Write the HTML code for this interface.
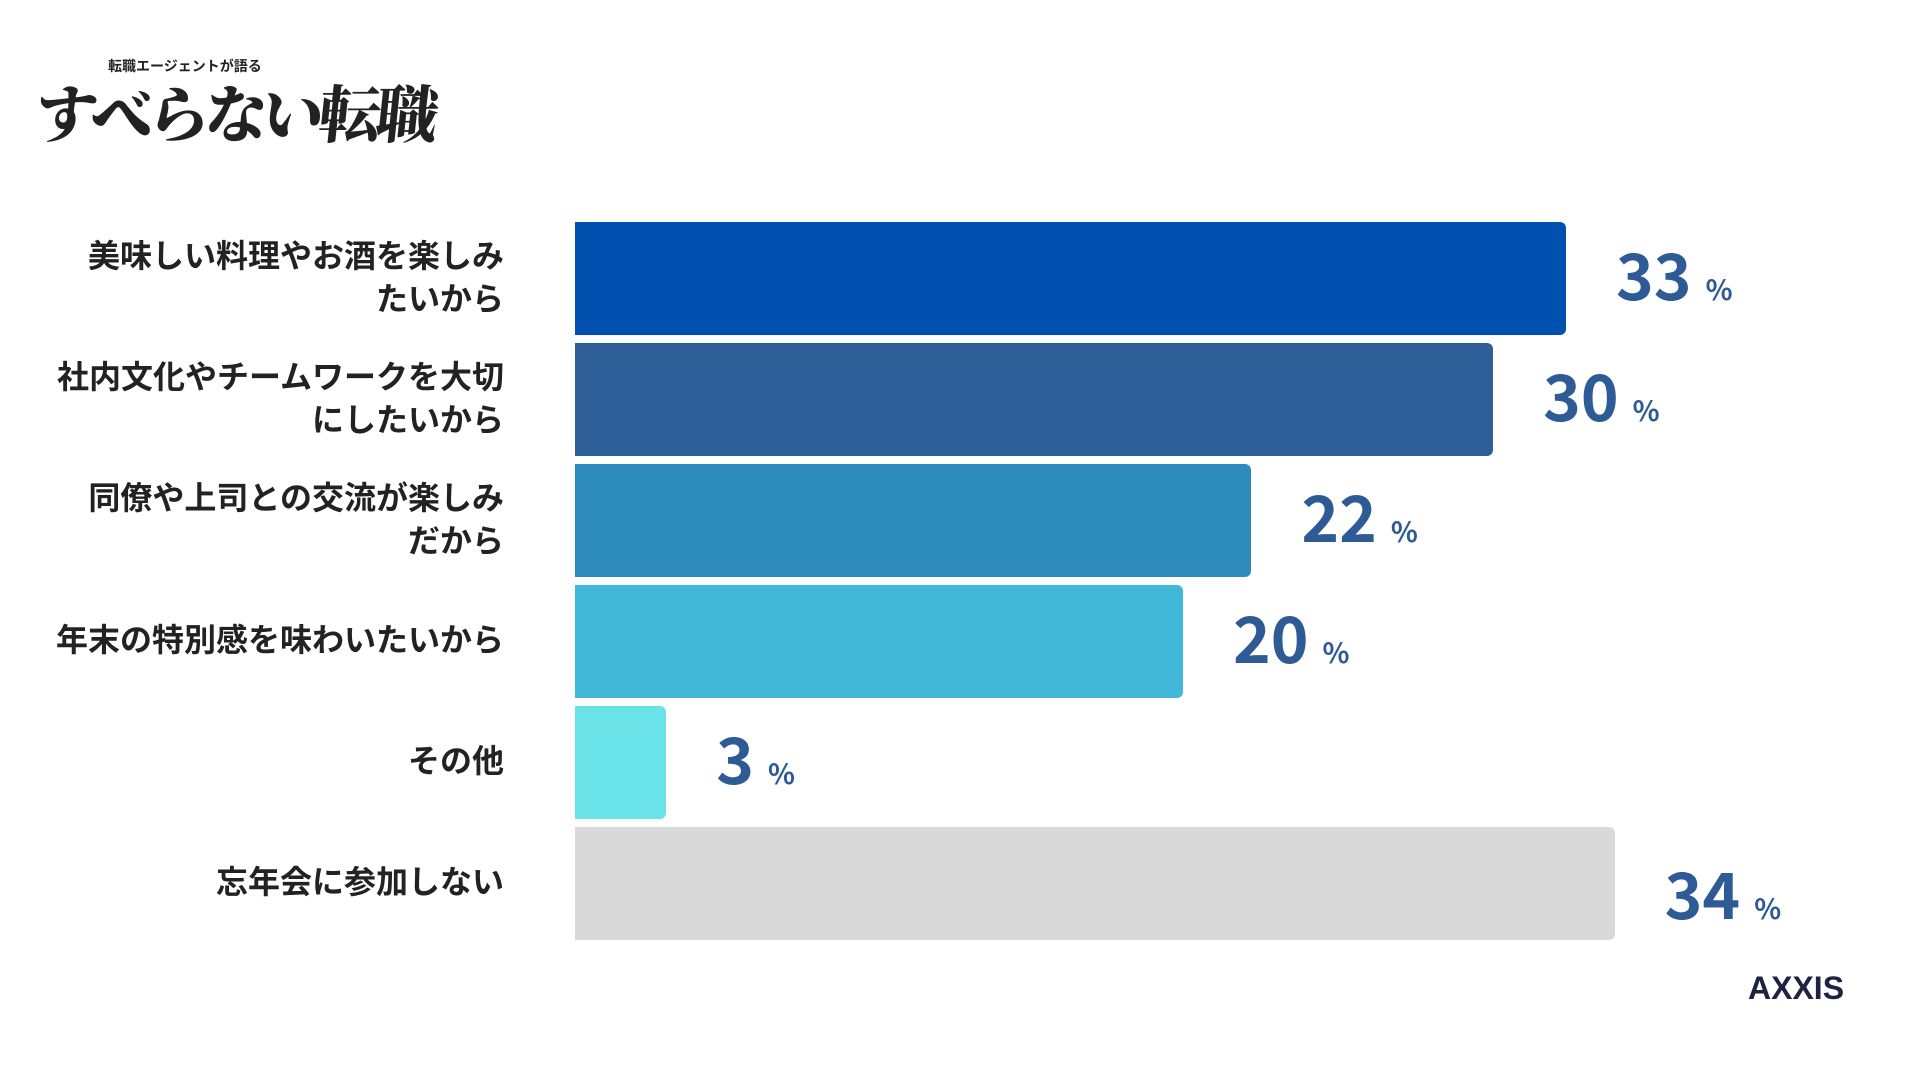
<!DOCTYPE html>
<html><head><meta charset="utf-8">
<style>
html,body{margin:0;padding:0;background:#fff;}
body{width:1920px;height:1080px;position:relative;overflow:hidden;font-family:"Liberation Sans","Noto Sans CJK JP",sans-serif;}
.lbl{position:absolute;right:1416px;text-align:right;font-weight:bold;font-size:32px;line-height:43px;color:#222;white-space:nowrap;font-family:"Noto Sans CJK JP",sans-serif;}
.bar{position:absolute;left:575px;border-radius:0 6px 6px 0;}
.val{position:absolute;color:#2e5a95;font-weight:bold;white-space:nowrap;font-family:"Noto Sans CJK JP",sans-serif;line-height:1;}
.val .n{font-size:64px;}
.val .p{font-size:28px;margin-left:14px;}
</style></head><body>
<div style="position:absolute;left:36px;top:44px;width:420px;height:100px;white-space:nowrap;">
  <div style="position:absolute;left:72px;top:12px;font-size:14px;font-weight:bold;color:#222;">転職エージェントが語る</div>
  <div style="position:absolute;left:0;top:22px;font-family:'Noto Serif CJK SC',serif;font-size:62px;font-weight:900;color:#222;letter-spacing:-5px;transform:skewX(-6deg);white-space:nowrap;">すべらない転職</div>
</div>
<div id="chart"></div>
<div style="position:absolute;left:1748px;top:970px;font-size:32px;font-weight:bold;color:#1d2340;">AXXIS</div>
<script>
const categories=[["美味しい料理やお酒を楽しみ","たいから"],["社内文化やチームワークを大切","にしたいから"],["同僚や上司との交流が楽しみ","だから"],["年末の特別感を味わいたいから"],["その他"],["忘年会に参加しない"]];
const values=[32.6,30.2,22.25,20.0,3.0,34.2];
const valueLabels=["33","30","22","20","3","34"];
const colors=["#0050b0","#2e5f99","#2d8bbb","#42b8d8","#6ae3e8","#d9d9d9"];
const x0=575, pxPer=30.4, top0=222, pitch=121, bh=113;
const chart=document.getElementById('chart');
function xs(v){return v*pxPer;}
function ys(i){return top0+i*pitch;}
values.forEach((v,i)=>{
  const b=document.createElement('div');
  b.className='bar';
  
  
  b.style.top=ys(i)+'px';b.style.height=bh+'px';b.style.width=xs(v)+'px';b.style.background=colors[i];
  chart.appendChild(b);
  const l=document.createElement('div');
  l.className='lbl';
  
  
  l.innerHTML=categories[i].join('<br>');
  const h=categories[i].length*43;
  l.style.top=(ys(i)+bh/2-h/2-3)+'px';
  chart.appendChild(l);
  const t=document.createElement('div');
  t.className='val';
  
  
  t.innerHTML='<span class="n">'+valueLabels[i]+'</span><span class="p">%</span>';
  t.style.left=(x0+xs(v)+50)+'px';
  t.style.top=(ys(i)+bh/2-38+(i==5?14:0))+'px';
  chart.appendChild(t);
});
</script>
</body></html>
